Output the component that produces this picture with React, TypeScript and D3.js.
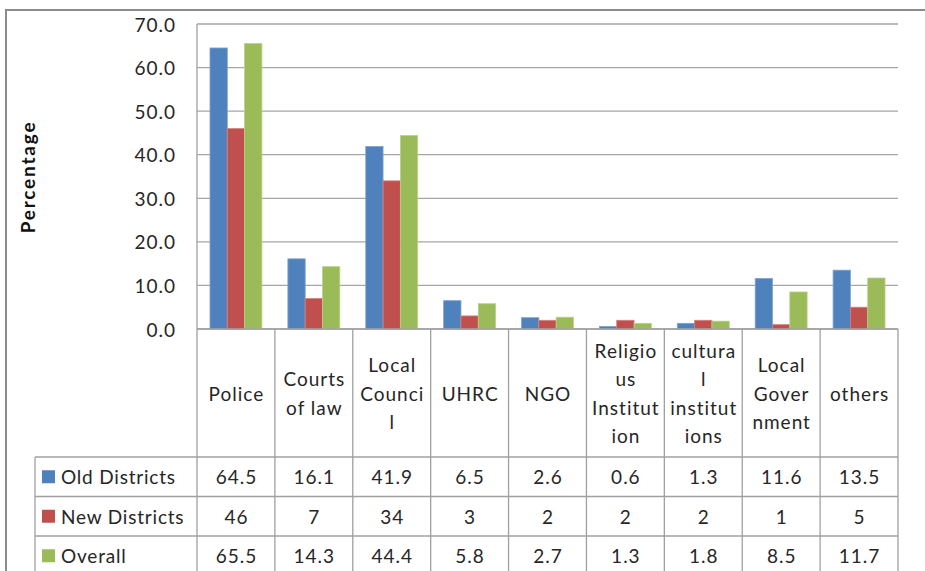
import React from "react";
import * as d3 from "d3";

const categoryLines: string[][] = [
  ["Police"],
  ["Courts", "of law"],
  ["Local", "Counci", "l"],
  ["UHRC"],
  ["NGO"],
  ["Religio", "us", "Institut", "ion"],
  ["cultura", "l", "institut", "ions"],
  ["Local", "Gover", "nment"],
  ["others"],
];
const oldDistricts = [64.5, 16.1, 41.9, 6.5, 2.6, 0.6, 1.3, 11.6, 13.5];
const newDistricts = [46, 7, 34, 3, 2, 2, 2, 1, 5];
const overall = [65.5, 14.3, 44.4, 5.8, 2.7, 1.3, 1.8, 8.5, 11.7];
const seriesNames = ["Old Districts", "New Districts", "Overall"];
const seriesColors = ["#4F81BD", "#C0504D", "#9BBB59"];
const seriesStrokes = ["#7FA3D0", "#D4807E", "#B8D08A"];
const seriesDecimals = [1, 0, 1];
const yTicks = [0, 10, 20, 30, 40, 50, 60, 70];

export default function App() {
  const series = [oldDistricts, newDistricts, overall];
  const left = 197, right = 898, top = 24, bottom = 329;
  const x = d3.scaleBand<number>().domain(d3.range(categoryLines.length)).range([left, right]);
  const xs = d3.scaleBand<number>().domain([0, 1, 2]).range([0, x.bandwidth()]).paddingOuter(0.75);
  const y = d3.scaleLinear().domain([0, 70]).range([bottom, top]);
  const font = "Lato, 'Open Sans', sans-serif";
  const grid = "#A6A6A6";
  const tline = "#A0A0A0";
  const headerBottom = 457;
  const rowH = 39.5;
  const tableLeft = 35;
  const lineSpacing = 28.5;
  const headerMid = 393;
  const ls = 1;
  const txt = "#262626";

  return (
    <svg width={925} height={571} style={{ position: "absolute", left: 0, top: 0, background: "#fff" }} fontFamily={font}>
      {/* outer frame */}
      <path d={`M6,580 L6,10 L930,10`} fill="none" stroke="#8C8C8C" strokeWidth={2} />
      {/* gridlines */}
      {yTicks.map((t) => (
        <line key={"g" + t} x1={left} x2={right} y1={y(t)} y2={y(t)} stroke={grid} strokeWidth={1.3} />
      ))}
      {/* y tick labels */}
      {yTicks.map((t) => (
        <text key={"yl" + t} x={176} y={y(t)} textAnchor="end" dominantBaseline="central" fontSize={19} letterSpacing={ls} fill={txt}>
          {t.toFixed(1)}
        </text>
      ))}
      <text
        transform={`translate(27,177) rotate(-90)`}
        textAnchor="middle"
        dominantBaseline="central"
        fontSize={19}
        fontWeight="bold"
        letterSpacing={1.8}
        fill="#111"
      >
        Percentage
      </text>
      {/* bars */}
      {series.map((vals, si) =>
        vals.map((v, ci) => (
          <rect
            key={`b${si}-${ci}`}
            x={(x(ci) as number) + (xs(si) as number)}
            y={y(v)}
            width={xs.bandwidth()}
            height={y(0) - y(v)}
            fill={seriesColors[si]}
            stroke={seriesStrokes[si]}
            strokeWidth={0.8}
          />
        ))
      )}
      {/* axis line */}
      <line x1={left} x2={left} y1={top} y2={headerBottom} stroke={tline} strokeWidth={1.3} />
      {/* header row vertical lines */}
      {categoryLines.map((_, ci) => (
        <line key={"hv" + ci} x1={(x(ci) as number) + x.bandwidth()} x2={(x(ci) as number) + x.bandwidth()} y1={bottom} y2={headerBottom + rowH * 3 + 10} stroke={tline} strokeWidth={1.3} />
      ))}
      <line x1={left} x2={right} y1={bottom} y2={bottom} stroke={tline} strokeWidth={1.3} />
      {/* category labels */}
      {categoryLines.map((lines, ci) => {
        const cx = (x(ci) as number) + x.bandwidth() / 2 + ls / 2;
        const start = headerMid - ((lines.length - 1) * lineSpacing) / 2;
        return (
          <text key={"cl" + ci} textAnchor="middle" fontSize={19} letterSpacing={ls} fill={txt}>
            {lines.map((ln, li) => (
              <tspan key={li} x={cx} y={start + li * lineSpacing} dominantBaseline="central">
                {ln}
              </tspan>
            ))}
          </text>
        );
      })}
      {/* table */}
      <line x1={tableLeft} x2={tableLeft} y1={headerBottom} y2={headerBottom + rowH * 3 + 10} stroke={tline} strokeWidth={1.3} />
      <line x1={left} x2={left} y1={headerBottom} y2={headerBottom + rowH * 3 + 10} stroke={tline} strokeWidth={1.3} />
      {[0, 1, 2].map((r) => (
        <line key={"hr" + r} x1={tableLeft} x2={right} y1={headerBottom + r * rowH} y2={headerBottom + r * rowH} stroke={tline} strokeWidth={1.3} />
      ))}
      {series.map((vals, si) => {
        const cy = headerBottom + si * rowH + rowH / 2;
        return (
          <g key={"row" + si}>
            <rect x={42} y={cy - 6.5} width={13} height={13} fill={seriesColors[si]} />
            <text x={61} y={cy} dominantBaseline="central" fontSize={19} letterSpacing={0.8} fill={txt}>
              {seriesNames[si]}
            </text>
            {vals.map((v, ci) => (
              <text
                key={"tv" + ci}
                x={(x(ci) as number) + x.bandwidth() / 2 + ls / 2}
                y={cy}
                textAnchor="middle"
                dominantBaseline="central"
                fontSize={19}
                letterSpacing={ls}
                fill={txt}
              >
                {v.toFixed(seriesDecimals[si])}
              </text>
            ))}
          </g>
        );
      })}
    </svg>
  );
}
